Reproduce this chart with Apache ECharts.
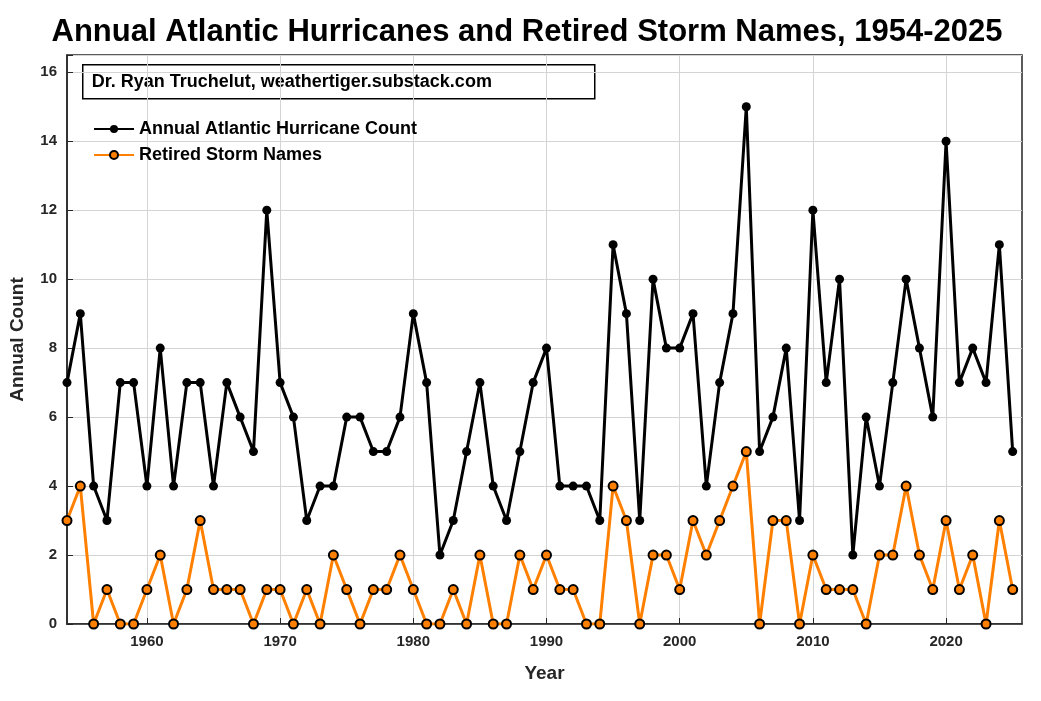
<!DOCTYPE html>
<html><head><meta charset="utf-8">
<script src="https://cdn.jsdelivr.net/npm/echarts@6/dist/echarts.min.js"></script>
<style>html,body{margin:0;background:#fff}#c{width:1041px;height:701px}</style>
</head><body><div id="c"></div>
<script>
const years = []
for (let y = 1954; y <= 2025; y++) years.push(y)
const hurricanes = [7,9,4,3,7,7,4,8,4,7, 7,4,7,6,5,12,7,6,3,4, 4,6,6,5,5,6,9,7,2,3,
  5,7,4,3,5,7,8,4,4,4, 3,11,9,3,10,8,8,9,4,7, 9,15,5,6,8,3,12,7,10,2, 6,4,7,10,8,6,14,7,8,7, 11,5]
const retired = [3,4,0,1,0,0,1,2,0,1, 3,1,1,1,0,1,1,0,1,0, 2,1,0,1,1,2,1,0,0,1,
  0,2,0,0,2,1,2,1,1,0, 0,4,3,0,2,2,1,3,2,3, 4,5,0,3,3,0,2,1,1,1, 0,2,2,4,2,1,3,1,2,0, 3,1]
const xTicks = [1960,1970,1980,1990,2000,2010,2020]

const font = 'Arial, "Liberation Sans", sans-serif'
const lbl = { color:'#262626', fontWeight:'bold', fontSize:15, fontFamily:font }
const grid = { show:true, lineStyle:{ color:'#d4d4d4', width:1 } }

const chart = echarts.init(document.getElementById('c'))
chart.setOption({
  animation:false,
  title:{ text:'Annual Atlantic Hurricanes and Retired Storm Names, 1954-2025', left:522, top:12, textAlign:'center',
    textStyle:{ fontSize:31, fontWeight:'bold', color:'#000', fontFamily:font } },
  grid:{ left:67, right:19, top:55, bottom:77, show:true, borderColor:'#262626', borderWidth:1.5 },
  xAxis:{ type:'value', min:1954, max:2025.7, name:'Year', nameLocation:'middle', nameGap:40,
    nameTextStyle:{ ...lbl, fontSize:19 },
    axisLine:{ lineStyle:{ color:'#262626', width:1.5 } },
    axisTick:{ inside:true, length:6, customValues:xTicks },
    axisLabel:{ ...lbl, customValues:xTicks, margin:10, formatter:v => String(v) },
    splitLine:grid },
  yAxis:{ type:'value', min:0, max:16.5, interval:2, name:'Annual Count', nameLocation:'middle', nameGap:40,
    nameTextStyle:{ ...lbl, fontSize:19 },
    axisLine:{ show:true, lineStyle:{ color:'#262626', width:1.5 } },
    axisTick:{ show:true, inside:true, length:6 },
    axisLabel:{ ...lbl, margin:10, formatter:v => v > 16 ? '' : String(v) },
    splitLine:grid },
  legend:{ left:88, top:115, orient:'vertical', itemGap:8, itemWidth:40, itemHeight:10,
    textStyle:{ fontSize:18, fontWeight:'bold', color:'#000', fontFamily:font },
    data:['Annual Atlantic Hurricane Count','Retired Storm Names'] },
  graphic:[{ type:'group', left:82, top:64, children:[
    { type:'rect', shape:{ x:0, y:0, width:512, height:34 }, style:{ fill:'#fff', stroke:'#000', lineWidth:1.5 } },
    { type:'text', x:9, y:8, style:{ text:'Dr. Ryan Truchelut, weathertiger.substack.com',
      font:'bold 18px '+font, fill:'#000' } } ] }],
  series:[
    { name:'Annual Atlantic Hurricane Count', type:'line', data:years.map((y,i)=>[y,hurricanes[i]]),
      symbol:'circle', symbolSize:9, lineStyle:{ color:'#000', width:3 }, itemStyle:{ color:'#000' } },
    { name:'Retired Storm Names', type:'line', data:years.map((y,i)=>[y,retired[i]]),
      symbol:'circle', symbolSize:9, lineStyle:{ color:'#ff8000', width:3 },
      itemStyle:{ color:'#ff8000', borderColor:'#000', borderWidth:2 } }
  ]
})
</script></body></html>
